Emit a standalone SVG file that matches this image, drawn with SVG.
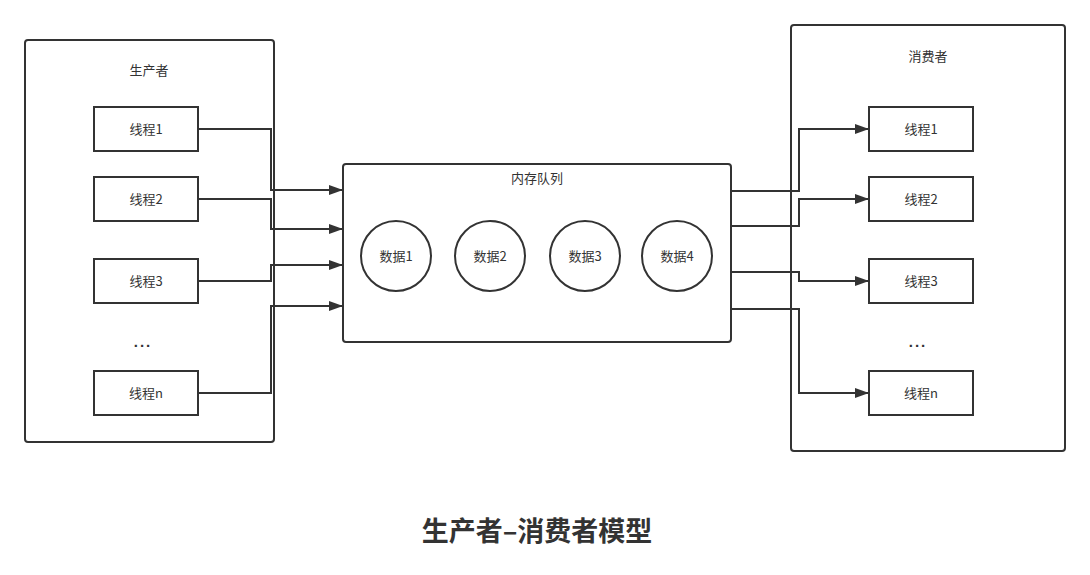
<svg xmlns="http://www.w3.org/2000/svg" width="1090" height="575" viewBox="0 0 1090 575">
<style>
.box{fill:#fff;stroke:#333;stroke-width:2}
.ct{fill:none;stroke:#333;stroke-width:2}
.t{font-family:"Noto Sans CJK SC","Liberation Sans",sans-serif;font-size:13px;fill:#333;text-anchor:middle;dominant-baseline:central}
.c{fill:none;stroke:#333;stroke-width:2}
.dots{font-family:"Liberation Sans",sans-serif;font-size:15px;font-weight:bold;fill:#333;text-anchor:middle;letter-spacing:2px}
.title{font-family:"Noto Sans CJK SC","Liberation Sans",sans-serif;font-size:27px;font-weight:bold;fill:#333;text-anchor:middle;dominant-baseline:central}
</style>
<defs>
<marker id="arr" viewBox="0 0 14 10" refX="14" refY="5" markerWidth="14" markerHeight="10" markerUnits="userSpaceOnUse" orient="auto">
<path d="M0,0 L14,5 L0,10 Z" fill="#333"/>
</marker>
</defs>
<rect width="1090" height="575" fill="#fff"/>
<g id="producer">
<rect class="ct" x="25" y="40" width="249" height="402" rx="3"/>
<text class="t" x="149" y="69">生产者</text>
</g>
<g id="consumer">
<rect class="ct" x="791" y="25" width="274" height="426" rx="3"/>
<text class="t" x="928" y="55">消费者</text>
</g>
<g id="queue">
<rect class="ct" x="343" y="164" width="388" height="178" rx="3"/>
<text class="t" x="537" y="177">内存队列</text>
</g>
<g id="p1"><rect class="box" x="94" y="107" width="104" height="44"/><text class="t" x="146" y="128">线程1</text></g>
<g id="p2"><rect class="box" x="94" y="177" width="104" height="44"/><text class="t" x="146" y="198">线程2</text></g>
<g id="p3"><rect class="box" x="94" y="259" width="104" height="44"/><text class="t" x="146" y="280">线程3</text></g>
<g id="pdots"><text class="dots" x="143" y="347">...</text></g>
<g id="pn"><rect class="box" x="94" y="371" width="104" height="44"/><text class="t" x="146" y="392">线程n</text></g>
<g id="c1"><rect class="box" x="869" y="107" width="104" height="44"/><text class="t" x="921" y="128">线程1</text></g>
<g id="c2"><rect class="box" x="869" y="177" width="104" height="44"/><text class="t" x="921" y="198">线程2</text></g>
<g id="c3"><rect class="box" x="869" y="259" width="104" height="44"/><text class="t" x="921" y="280">线程3</text></g>
<g id="cdots"><text class="dots" x="918" y="347">...</text></g>
<g id="cn"><rect class="box" x="869" y="371" width="104" height="44"/><text class="t" x="921" y="392">线程n</text></g>
<g id="d1"><circle class="c" cx="396" cy="256" r="35"/><text class="t" x="396" y="255">数据1</text></g>
<g id="d2"><circle class="c" cx="490" cy="256" r="35"/><text class="t" x="490" y="255">数据2</text></g>
<g id="d3"><circle class="c" cx="585" cy="256" r="35"/><text class="t" x="585" y="255">数据3</text></g>
<g id="d4"><circle class="c" cx="677" cy="256" r="35"/><text class="t" x="677" y="255">数据4</text></g>
<g id="connectors" fill="none" stroke="#333" stroke-width="2">
<polyline points="198,129 271,129 271,190 343,190" marker-end="url(#arr)"/>
<polyline points="198,199 271,199 271,229 343,229" marker-end="url(#arr)"/>
<polyline points="198,281 271,281 271,265 343,265" marker-end="url(#arr)"/>
<polyline points="198,393 271,393 271,306 343,306" marker-end="url(#arr)"/>
<polyline points="731,191 799,191 799,129 869,129" marker-end="url(#arr)"/>
<polyline points="731,226 799,226 799,199 869,199" marker-end="url(#arr)"/>
<polyline points="731,272 799,272 799,281 869,281" marker-end="url(#arr)"/>
<polyline points="731,309 799,309 799,393 869,393" marker-end="url(#arr)"/>
</g>
<text class="title" x="537" y="529">生产者–消费者模型</text>
</svg>
